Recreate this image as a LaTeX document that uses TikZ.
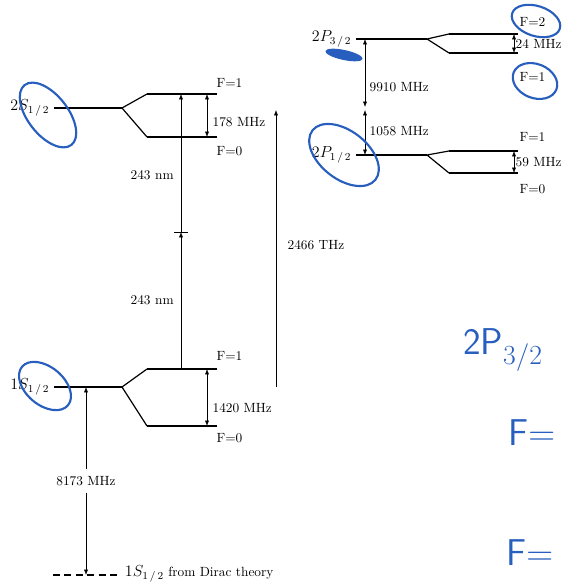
\documentclass[tikz,border=0pt]{standalone}
\usepackage{amsmath}
\usetikzlibrary{arrows.meta,positioning,calc}
\definecolor{inkblue}{RGB}{40,95,190}

\tikzset{
  mainlevel/.style={line width=2.2pt},
  hfslevel/.style={line width=1.3pt},
  splitline/.style={line width=0.9pt},
  trans/.style={-{Latex[length=4pt,width=3pt]}},
  gap/.style={{Latex[length=4pt,width=3pt]}-{Latex[length=4pt,width=3pt]}},
  flab/.style={anchor=west,inner sep=1pt},
  vlab/.style={anchor=west,inner sep=1pt},
  lvl/.style={left=0pt,font=\large},
  ink/.style={inkblue,line width=1.6pt,line cap=round},
  scrawl/.style={inkblue,font=\sffamily\fontsize{28}{28}\selectfont},
}

\begin{document}
\begin{tikzpicture}[x=0.75pt,y=-0.75pt]
    \useasboundingbox (0,0) rectangle (566,584);

    % 2S_{1/2} with hyperfine split
    \coordinate (s2a) at (54,108);
    \coordinate (s2b) at (122,108);
    \coordinate (s2up) at (147,94);
    \coordinate (s2upe) at (217,94);
    \coordinate (s2dn) at (147,137);
    \coordinate (s2dne) at (217,137);
    \draw[mainlevel] (s2a) -- (s2b);
    \draw[splitline] (s2up) -- (s2b) -- (s2dn);
    \draw[hfslevel] (s2up) -- (s2upe) (s2dn) -- (s2dne);
    \node[lvl] (s2name) at (s2a) {$2S_{1\,/\,2}$};
    \node[flab] (s2f1) at (215,83) {F=1};
    \node[flab] (s2f0) at (215,151) {F=0};
    \draw[gap] ($(s2upe)+(-10,0)$) -- ($(s2dne)+(-10,0)$);
    \node[vlab] (s2hfs) at (211,122) {178 MHz};

    % 1S_{1/2} with hyperfine split
    \coordinate (s1a) at (54,387);
    \coordinate (s1b) at (122,387);
    \coordinate (s1up) at (147,369);
    \coordinate (s1upe) at (217,369);
    \coordinate (s1dn) at (147,426);
    \coordinate (s1dne) at (217,426);
    \draw[mainlevel] (s1a) -- (s1b);
    \draw[splitline] (s1up) -- (s1b) -- (s1dn);
    \draw[hfslevel] (s1up) -- (s1upe) (s1dn) -- (s1dne);
    \node[lvl] (s1name) at (s1a) {$1S_{1\,/\,2}$};
    \node[flab] (s1f1) at (215,356) {F=1};
    \node[flab] (s1f0) at (215,438) {F=0};
    \draw[gap] ($(s1upe)+(-10,0)$) -- ($(s1dne)+(-10,0)$);
    \node[vlab] (s1hfs) at (211,408) {1420 MHz};

    % two-photon 1S-2S
    \coordinate (tpa) at (181,369);
    \coordinate (tpm) at (181,232);
    \coordinate (tpb) at (181,94);
    \draw[trans] (tpa) -- (tpm);
    \draw[trans] (tpm) -- (tpb);
    \draw ($(tpm)+(-7,0)$) -- ($(tpm)+(7,0)$);
    \node[left=2pt] (nmup) at (181,175) {243 nm};
    \node[left=2pt] (nmdn) at (181,300) {243 nm};

    \coordinate (thza) at (276,387);
    \coordinate (thzb) at (276,110);
    \draw[trans] (thza) -- (thzb);
    \node[vlab] (thz) at (286,245) {2466 THz};

    % Dirac value
    \coordinate (dira) at (53,575);
    \coordinate (dirb) at (117,575);
    \draw[line width=1.4pt,dash pattern=on 5pt off 3.6pt] (dira) -- (dirb);
    \node[anchor=west,inner sep=2pt] (dirname) at (122,574) {{\large$1S_{1\,/\,2}$} from Dirac theory};
    \node[inner ysep=5.5pt] (lamb) at (86,481) {8173 MHz};
    \draw[trans] (lamb) -- (86,387);
    \draw[trans] (lamb) -- (86,575);

    % 2P_{3/2} with hyperfine split
    \coordinate (p3a) at (356,39);
    \coordinate (p3b) at (427,39);
    \coordinate (p3up) at (449,34);
    \coordinate (p3upe) at (518,34);
    \coordinate (p3dn) at (449,53);
    \coordinate (p3dne) at (518,53);
    \draw[hfslevel] (p3a) -- (p3b);
    \draw[splitline] (p3up) -- (p3b) -- (p3dn);
    \draw[hfslevel] (p3up) -- (p3upe) (p3dn) -- (p3dne);
    \node[lvl] (p3name) at (p3a) {$2P_{3\,/\,2}$};
    \node[flab] (p3f2) at (518,22) {F=2};
    \node[flab] (p3f1) at (518,77) {F=1};
    \draw[gap] ($(p3upe)+(-4,0)$) -- ($(p3dne)+(-4,0)$)
        node[midway,vlab] (p3hfs) {24 MHz};

    % 2P_{1/2} with hyperfine split
    \coordinate (p1a) at (356,155);
    \coordinate (p1b) at (427,155);
    \coordinate (p1up) at (449,151);
    \coordinate (p1upe) at (518,151);
    \coordinate (p1dn) at (449,173);
    \coordinate (p1dne) at (518,173);
    \draw[hfslevel] (p1a) -- (p1b);
    \draw[splitline] (p1up) -- (p1b) -- (p1dn);
    \draw[hfslevel] (p1up) -- (p1upe) (p1dn) -- (p1dne);
    \node[lvl] (p1name) at (p1a) {$2P_{1\,/\,2}$};
    \node[flab] (p1f1) at (518,137) {F=1};
    \node[flab] (p1f0) at (518,189) {F=0};
    \draw[gap] ($(p1upe)+(-4,0)$) -- ($(p1dne)+(-4,0)$)
        node[midway,vlab] (p1hfs) {59 MHz};

    % fine structure and Lamb shift
    \coordinate (fsa) at (365,39);
    \coordinate (fsm) at (365,108);
    \coordinate (fsb) at (365,155);
    \draw[gap] (fsa) -- ($(fsm)+(0,-1)$);
    \draw[gap] ($(fsm)+(0,2)$) -- (fsb);
    \node[vlab] (fine) at (368,87) {9910 MHz};
    \node[vlab] (lshift) at (368,131) {1058 MHz};

    % hand-written marks
    \draw[ink,rotate around={-52:(48,115)}] (48,115) ellipse (38 and 20);
    \draw[ink,rotate around={-40:(45,386)}] (45,386) ellipse (30 and 19);
    \draw[ink,rotate around={-38:(344,155)}] (344,155) ellipse (40 and 24);
    \draw[ink,rotate around={-18:(536,21)}] (536,21) ellipse (25 and 15);
    \draw[ink,rotate around={-22:(535,81)}] (535,81) ellipse (23 and 17);
    \fill[inkblue,rotate around={-12:(344,55)}] (344,55) ellipse (19 and 5);
    \node[scrawl] (note) at (503,350) {2P$_{3/2}$};
    \node[scrawl] (notef1) at (532,433) {F=};
    \node[scrawl] (notef2) at (530,553) {F=};
\end{tikzpicture}
\end{document}
